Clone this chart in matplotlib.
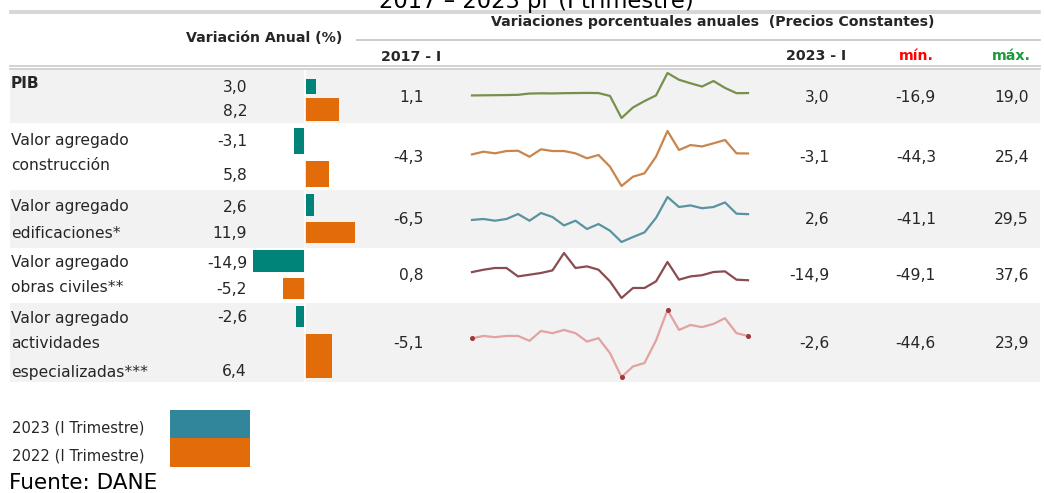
import matplotlib
matplotlib.use("Agg")
import matplotlib.pyplot as plt
from matplotlib.patches import Rectangle

# ---------------- data ----------------
row_labels = [["PIB"],
              ["Valor agregado", "construcción"],
              ["Valor agregado", "edificaciones*"],
              ["Valor agregado", "obras civiles**"],
              ["Valor agregado", "actividades", "especializadas***"]]
var_2023 = [3.0, -3.1, 2.6, -14.9, -2.6]
var_2022 = [8.2, 5.8, 11.9, -5.2, 6.4]
first_2017 = [1.1, -4.3, -6.5, 0.8, -5.1]
last_2023 = [3.0, -3.1, 2.6, -14.9, -2.6]
min_vals = [-16.9, -44.3, -41.1, -49.1, -44.6]
max_vals = [19.0, 25.4, 29.5, 37.6, 23.9]

pib = [1.1, 1.2, 1.3, 1.4, 1.6, 2.6, 2.8, 2.7, 2.9, 3.0, 3.1, 3.0, 0.7,
       -16.9, -8.5, -3.4, 1.1, 19.0, 13.6, 10.8, 8.2, 12.6, 7.1, 2.9, 3.0]
construccion = [-4.3, -0.8, -2.9, 0.0, 0.4, -7.2, 2.2, 0.0, 0.0, -2.9, -9.2, -5.0, -19.8,
                -44.3, -32.5, -28.2, -7.2, 25.4, 1.3, 7.6, 5.8, 9.8, 14.0, -2.9, -3.1]
edificaciones = [-6.5, -5.0, -7.7, -5.0, 2.8, -7.7, 4.4, -1.9, -15.1, -7.7, -20.7, -12.9, -23.4,
                 -41.1, -33.3, -26.0, -3.4, 29.5, 13.8, 16.3, 11.9, 13.8, 21.0, 3.3, 2.6]
obras_civiles = [0.8, 5.4, 8.7, 8.7, -7.5, -4.2, -0.9, 4.1, 37.6, 8.7, 11.8, 5.4, -17.1,
                 -49.1, -29.8, -29.8, -17.1, 20.3, -13.8, -7.5, -5.2, 1.0, 2.2, -13.8, -14.9]
especializadas = [-5.1, -2.6, -3.9, -2.6, -2.6, -7.6, 2.5, 0.2, 3.5, 0.2, -8.4, -4.9, -20.2,
                  -44.6, -33.8, -30.3, -7.3, 23.9, 3.5, 8.6, 6.4, 9.7, 15.5, 0.2, -2.6]
series = [pib, construccion, edificaciones, obras_civiles, especializadas]
quarters = list(range(len(pib)))  # 2017-I ... 2023-I

legend_labels = ["2023 (I Trimestre)", "2022 (I Trimestre)"]

# ---------------- style / layout ----------------
W, H = 1044, 493
TEAL = "#008379"
ORANGE = "#e36c0a"
LEG_TEAL = "#31869b"
LINE_COLORS = ["#77904c", "#c8854c", "#5a93a0", "#8a4c4f", "#e3a2a2"]
TXT = "#262626"
FONT = "DejaVu Sans"
FS = 11.2      # body text
HFS = 10.2     # bold headers

row_bounds = [(70, 123), (123, 190), (190, 248), (248, 303), (303, 382)]
label_y = [[83], [141, 166], [207, 233], [263, 288], [318, 344, 372]]
v23_y = [88, 142, 207, 263, 318]
v22_y = [111, 176, 234, 290, 372]
teal_rng = [(79, 94), (128, 154), (194, 216), (250, 272), (306, 327)]
orng_rng = [(98, 121), (161, 187), (222, 243), (278, 299), (334, 378)]
mid_y = [97, 158, 219, 276, 344]
spark_px = [(73, 118), (131, 186), (197, 242), (253, 298), (310, 377)]  # (max y, min y)

def fr(x0, y0, x1, y1):
    return [x0 / W, 1 - y1 / H, (x1 - x0) / W, (y1 - y0) / H]

def fmt(v):
    return f"{v:.1f}".replace(".", ",")

fig = plt.figure(figsize=(W / 100, H / 100), dpi=100)
bg = fig.add_axes([0, 0, 1, 1])
bg.set_xlim(0, W)
bg.set_ylim(H, 0)
bg.axis("off")

# row bands
for i, (y0, y1) in enumerate(row_bounds):
    if i % 2 == 0:
        bg.add_patch(Rectangle((10, y0), 1030, y1 - y0, color="#f2f2f2", lw=0, zorder=0))

# header lines
for yy in (10.5, 13):
    bg.plot([10, 1040], [yy, yy], color="#d0d0d0", lw=1.2, zorder=1)
bg.plot([357, 1040], [39.5, 39.5], color="#c8c8c8", lw=1.3, zorder=1)
for yy in (65.5, 68.5):
    bg.plot([10, 1040], [yy, yy], color="#cfcfcf", lw=1.3, zorder=1)

# title (cut at top, as in the source image)
bg.text(536, 8, "2017 – 2023 pr (I trimestre)", ha="center", va="baseline",
        fontsize=16.3, family=FONT, color="black")
bg.text(713, 22, "Variaciones porcentuales anuales  (Precios Constantes)", ha="center",
        va="center", fontsize=HFS, fontweight="bold", family=FONT, color=TXT)
bg.text(264, 38, "Variación Anual (%)", ha="center", va="center", fontsize=HFS,
        fontweight="bold", family=FONT, color=TXT)
bg.text(411, 57, "2017 - I", ha="center", va="center", fontsize=HFS, fontweight="bold",
        family=FONT, color=TXT)
bg.text(816, 56, "2023 - I", ha="center", va="center", fontsize=HFS, fontweight="bold",
        family=FONT, color=TXT)
bg.text(916, 56, "mín.", ha="center", va="center", fontsize=HFS, fontweight="bold",
        family=FONT, color="#ff0000")
bg.text(1011, 56, "máx.", ha="center", va="center", fontsize=HFS, fontweight="bold",
        family=FONT, color="#1a9a3a")

# row texts
for i in range(5):
    for lab, yy in zip(row_labels[i], label_y[i]):
        bg.text(11, yy, lab, ha="left", va="center", fontsize=FS, family=FONT, color=TXT,
                fontweight="bold" if lab == "PIB" else "normal")
    bg.text(247, v23_y[i], fmt(var_2023[i]), ha="right", va="center", fontsize=FS,
            family=FONT, color=TXT)
    bg.text(247, v22_y[i], fmt(var_2022[i]), ha="right", va="center", fontsize=FS,
            family=FONT, color=TXT)
    bg.text(424, mid_y[i], fmt(first_2017[i]), ha="right", va="center", fontsize=FS,
            family=FONT, color=TXT)
    bg.text(829, mid_y[i], fmt(last_2023[i]), ha="right", va="center", fontsize=FS,
            family=FONT, color=TXT)
    bg.text(936, mid_y[i], fmt(min_vals[i]), ha="right", va="center", fontsize=FS,
            family=FONT, color=TXT)
    bg.text(1029, mid_y[i], fmt(max_vals[i]), ha="right", va="center", fontsize=FS,
            family=FONT, color=TXT)

# bars: two overlapping axes (each column has its own scale)
ZERO = 305
for vals, rng, col, scale in ((var_2023, teal_rng, TEAL, 3.5), (var_2022, orng_rng, ORANGE, 4.2)):
    ax = fig.add_axes(fr(240, 0, 370, H))
    ax.set_xlim(-(ZERO - 240) / scale, (370 - ZERO) / scale)
    ax.set_ylim(H, 0)
    ax.axis("off")
    ax.patch.set_alpha(0)
    centers = [(a + b) / 2 for a, b in rng]
    heights = [b - a for a, b in rng]
    ax.barh(centers, vals, height=heights, color=col, lw=0)
    ax.vlines(0, row_bounds[0][0], row_bounds[-1][1], color="white", lw=1.2)

# sparklines
for i in range(5):
    ytop, ybot = spark_px[i]
    ax = fig.add_axes(fr(472, ytop, 748, ybot))
    ax.set_xlim(0, 24)
    ax.set_ylim(min_vals[i], max_vals[i])
    ax.axis("off")
    ax.patch.set_alpha(0)
    ax.plot(quarters, series[i], color=LINE_COLORS[i], lw=1.6, clip_on=False,
            solid_joinstyle="round")
    if i == 4:
        s = series[i]
        idx = [0, s.index(min(s)), s.index(max(s)), len(s) - 1]
        ax.plot([quarters[k] for k in idx], [s[k] for k in idx], "o", ms=2.6,
                color="#a03838", clip_on=False)

# legend
bg.add_patch(Rectangle((170, 410), 80, 28, color=LEG_TEAL, lw=0))
bg.add_patch(Rectangle((170, 438), 80, 29, color=ORANGE, lw=0))
for lab, yy in zip(legend_labels, (428, 456)):
    bg.text(12, yy, lab, ha="left", va="center", fontsize=10.6,
            family=["Liberation Sans Narrow", "DejaVu Sans"], color=TXT)
bg.text(9, 489, "Fuente: DANE", ha="left", va="baseline", fontsize=15.5, family=FONT,
        color="black")

fig.savefig("out.png", dpi=100)
